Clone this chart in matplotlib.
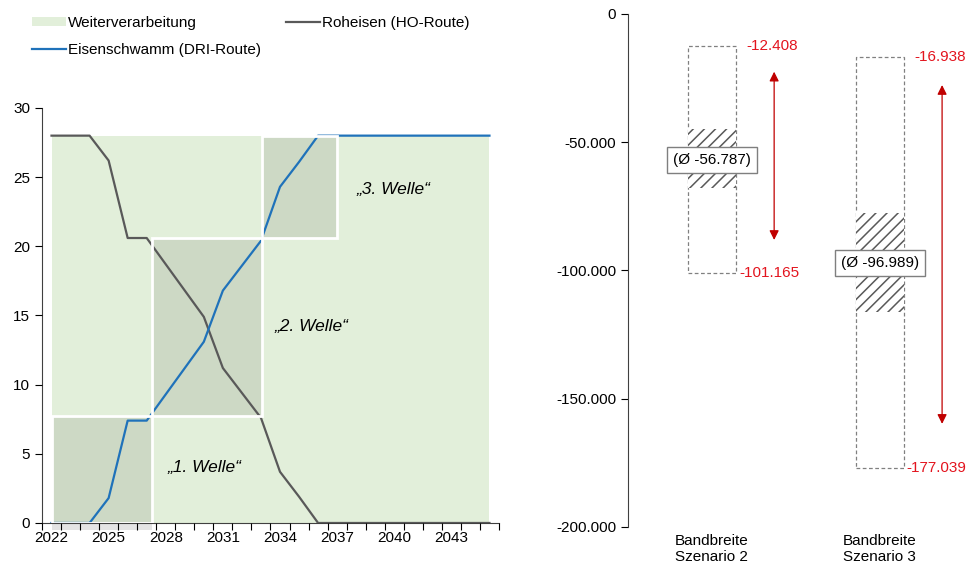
import numpy as np
import matplotlib
matplotlib.use("Agg")
import matplotlib.pyplot as plt
from matplotlib.patches import Rectangle
from matplotlib.ticker import FuncFormatter

plt.rcParams["font.family"] = ["Liberation Sans", "DejaVu Sans"]
plt.rcParams["font.size"] = 11
plt.rcParams["hatch.linewidth"] = 1.1

# left chart: capacities per year
years = list(range(2022, 2046))
weiterverarbeitung = [28, 28, 28, 28, 28, 28, 28, 28, 28, 28, 28, 28,
                      28, 28, 28, 28, 28, 28, 28, 28, 28, 28, 28, 28]
roheisen = [28, 28, 28, 26.2, 20.6, 20.6, 18.7, 16.8, 14.9, 11.2, 9.4, 7.6,
            3.7, 1.9, 0, 0, 0, 0, 0, 0, 0, 0, 0, 0]
eisenschwamm = [0, 0, 0, 1.8, 7.4, 7.4, 9.3, 11.2, 13.1, 16.8, 18.6, 20.4,
                24.3, 26.1, 28, 28, 28, 28, 28, 28, 28, 28, 28, 28]
year_labels = [2022, 2025, 2028, 2031, 2034, 2037, 2040, 2043]

# investment waves: start year, end year, lower, upper
wave_names = ["\u201e1. Welle\u201c", "\u201e2. Welle\u201c", "\u201e3. Welle\u201c"]
wave_start = [2022, 2027.3, 2033.06]
wave_end = [2027.3, 2033.06, 2037.0]
wave_low = [0, 7.7, 20.6]
wave_high = [7.7, 20.6, 28]
wave_label_x = [2028.1, 2033.7, 2038.0]
wave_label_y = [4.0, 14.2, 24.1]

# right chart: ranges per scenario
scenarios = ["Bandbreite\nSzenario 2", "Bandbreite\nSzenario 3"]
range_max = [-12408, -16938]
range_min = [-101165, -177039]
means = [-56787, -96989]
hatch_high = [-45000, -77500]
hatch_low = [-68000, -116300]
arrow_top = [-22500, -27700]
arrow_bottom = [-88100, -159800]

GREEN = "#E2EFDA"
WAVE = "#CDD9C5"
GRAY = "#595959"
BLUE = "#1F72BA"
RED = "#E3141E"
DARKRED = "#C00000"


def de_num(v, _=None):
    if v == 0:
        return "0"
    return f"{v:,.0f}".replace(",", ".")


fig = plt.figure(figsize=(9.74, 5.71), dpi=100)

# ---- left chart ----
ax = fig.add_axes([0.0431, 0.0841, 0.4692, 0.7268])
ax.fill_between(years, 0, weiterverarbeitung, color=GREEN, lw=0,
                label="Weiterverarbeitung", zorder=1)

for x0, x1, y0, y1 in zip(wave_start, wave_end, wave_low, wave_high):
    ax.add_patch(Rectangle((x0, y0), x1 - x0, y1 - y0, facecolor=WAVE,
                           edgecolor="none", zorder=2))
    ax.add_patch(Rectangle((x0, y0), x1 - x0, y1 - y0, facecolor="none",
                           edgecolor="white", lw=2, zorder=5))
# light strip below the first wave
ax.add_patch(Rectangle((wave_start[0], -0.5), wave_end[0] - wave_start[0], 0.5,
                       facecolor="#E4E4E4", edgecolor="none", clip_on=False,
                       zorder=1))

ax.plot(years, roheisen, color=GRAY, lw=1.6, label="Roheisen (HO-Route)", zorder=3)
ax.plot(years, eisenschwamm, color=BLUE, lw=1.6,
        label="Eisenschwamm (DRI-Route)", zorder=4)

for name, tx, ty in zip(wave_names, wave_label_x, wave_label_y):
    ax.text(tx, ty, name, fontsize=12.5, style="italic", ha="left",
            va="center", zorder=6)

ax.set_xlim(2021.5, 2045.5)
ax.set_ylim(0, 30)
ax.set_yticks([0, 5, 10, 15, 20, 25, 30])
ax.set_xticks(np.arange(2021.5, 2046, 1))
ax.set_xticklabels([])
ax.set_xticks(year_labels, minor=True)
ax.set_xticklabels([str(y) for y in year_labels], minor=True)
ax.tick_params(axis="x", which="major", length=5, direction="out")
ax.tick_params(axis="x", which="minor", length=0, pad=6, labelsize=11)
ax.tick_params(axis="y", length=5, labelsize=11)
for side in ["top", "right"]:
    ax.spines[side].set_visible(False)
for side in ["left", "bottom"]:
    ax.spines[side].set_color("#404040")
ax.set_axisbelow(False)

handles, labels = ax.get_legend_handles_labels()
order = [labels.index("Weiterverarbeitung"),
         labels.index("Eisenschwamm (DRI-Route)"),
         labels.index("Roheisen (HO-Route)")]
fig.legend([handles[i] for i in order], [labels[i] for i in order],
           loc="upper left", bbox_to_anchor=(0.033, 0.972), ncol=2,
           frameon=False, fontsize=11, handlelength=2.2, handleheight=0.5,
           handletextpad=0.15, columnspacing=1.65, labelspacing=0.85,
           borderpad=0, borderaxespad=0)

# ---- right chart ----
bx = fig.add_axes([0.6448, 0.0771, 0.3552, 0.8984])
xpos = np.array([0.5, 1.5])
width = 0.29

bx.bar(xpos, np.array(range_max) - np.array(range_min), bottom=range_min,
       width=width, fill=False, edgecolor="#808080", linestyle=(0, (3, 2)),
       lw=0.9, zorder=2)
bx.bar(xpos, np.array(hatch_high) - np.array(hatch_low), bottom=hatch_low,
       width=width, facecolor="white", edgecolor=GRAY, hatch="///", lw=0,
       zorder=3)

for x, m, hi, lo, at, ab in zip(xpos, means, range_max, range_min,
                                arrow_top, arrow_bottom):
    bx.text(x, m, f"(\u00d8 {de_num(m)})", ha="center", va="center",
            fontsize=11, zorder=5,
            bbox=dict(boxstyle="square,pad=0.4", fc="white", ec="#7F7F7F", lw=1))
    bx.text(x + 0.205, hi, de_num(hi), color=RED, ha="left", va="center",
            fontsize=11)
    bx.text(x + 0.16, lo, de_num(lo), color=RED, ha="left", va="center",
            fontsize=11)
    bx.annotate("", xy=(x + 0.37, at), xytext=(x + 0.37, ab),
                arrowprops=dict(arrowstyle="<|-|>", color=DARKRED, lw=0.9,
                                mutation_scale=14, shrinkA=0, shrinkB=0))

bx.set_xlim(0, 2.06)
bx.set_ylim(-200000, 0)
bx.set_yticks([0, -50000, -100000, -150000, -200000])
bx.yaxis.set_major_formatter(FuncFormatter(de_num))
bx.set_xticks(xpos)
bx.set_xticklabels(scenarios, fontsize=11, linespacing=1.15,
                   multialignment="left")
bx.tick_params(axis="x", length=0, pad=5)
bx.tick_params(axis="y", length=5, labelsize=11)
for side in ["top", "right", "bottom"]:
    bx.spines[side].set_visible(False)
bx.spines["left"].set_color("#404040")

fig.savefig("out.png", dpi=100)
